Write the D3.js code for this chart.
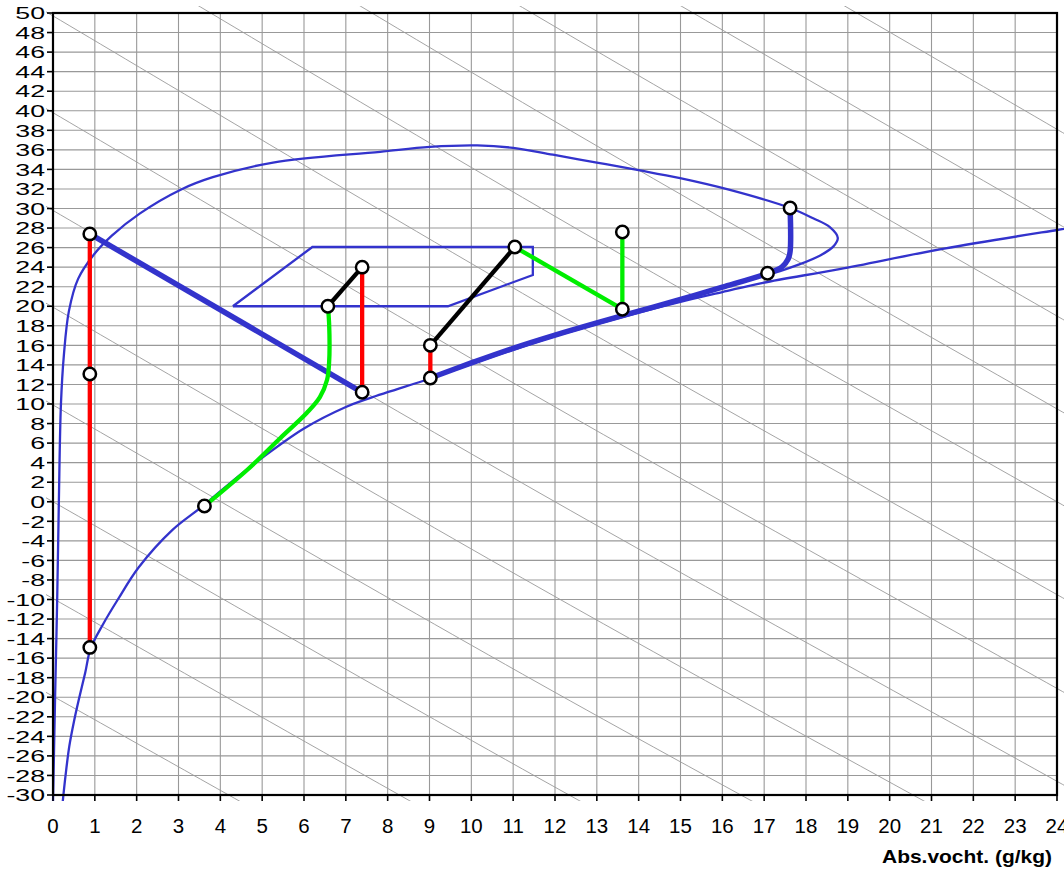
<!DOCTYPE html>
<html>
<head>
<meta charset="utf-8">
<script src="https://cdn.jsdelivr.net/npm/d3@7/dist/d3.min.js"></script>
<style>
  body { margin: 0; background: #fff; }
  svg { display: block; font-family: 'Liberation Sans', Arial, sans-serif; }
</style>
</head>
<body>
<svg id="chart" width="1064" height="875"></svg>
<script>
// axis ticks
var xTicks = d3.range(0, 25, 1);
var yTicks = d3.range(-30, 52, 2);

// enthalpy lines (kJ/kg), temperature where each line meets x = 0, 12 and 24 g/kg
var enthalpyLevels = [-20, -10, 0, 10, 20, 30, 40, 50, 60, 70, 80, 90, 100];
var enthalpyTAt0 = [-19.9, -9.9, 0, 9.9, 19.9, 29.8, 39.8, 49.7, 59.6, 69.6, 79.5, 89.5, 99.4];
var enthalpyTAt12 = [-48.6, -38.9, -29.2, -19.5, -9.7, 0, 9.7, 19.4, 29.2, 38.9, 48.6, 58.3, 68.1];
var enthalpyTAt24 = [-76.2, -66.7, -57.1, -47.6, -38.1, -28.6, -19.1, -9.5, 0, 9.5, 19.0, 28.5, 38.1];

// saturation curve [g/kg, degC]
var saturation = [
  [0.23, -30.8], [0.3, -28], [0.39, -25], [0.5, -22.5], [0.63, -20], [0.77, -17.5],
  [0.9, -15], [1.2, -12.5], [1.55, -10], [2.05, -6.7], [2.85, -2.9], [3.58, -0.44],
  [4.4, 2.5], [5.0, 4.5], [6.0, 7.5], [7.0, 9.7], [7.5, 10.5], [9.05, 12.66],
  [10.0, 14.1], [11.0, 15.55], [12.0, 16.95], [13.1, 18.3], [14.0, 19.35], [15.0, 20.45],
  [16.0, 21.45], [16.97, 22.4], [18.8, 23.8], [21.3, 25.9], [24.0, 27.8], [24.6, 28.2]
];

// outer boundary curve
var boundary = [
  [0.0, -30.8], [0.05, -20], [0.1, -10], [0.14, 0], [0.19, 10], [0.26, 15],
  [0.38, 19.5], [0.6, 22.8], [0.96, 25.2], [1.4, 27.2], [2.08, 29.5], [3.04, 31.9],
  [3.82, 33.2], [5.26, 34.7], [7.82, 35.8], [9.01, 36.3], [10.14, 36.45], [11.0, 36.2],
  [11.95, 35.5], [13.0, 34.7], [14.03, 33.9], [14.99, 33.1], [16.18, 31.9], [17.62, 30.05],
  [18.17, 29.0], [18.57, 28.1], [18.76, 27.0], [18.65, 26.1], [18.34, 25.2], [17.79, 24.2],
  [17.38, 23.6], [17.0, 23.15], [16.26, 22.35], [15.0, 20.7], [14.0, 19.5]
];

// comfort zone polygon
var zone = [[4.3, 20.0], [6.2, 26.06], [11.47, 26.06], [11.47, 23.2], [9.44, 20.0], [4.3, 20.0]];

// thick blue process lines
var thickLines = [
  [[0.88, 27.4], [7.39, 11.2]],
  [[9.02, 12.66], [10.0, 14.2], [11.0, 15.7], [12.0, 17.05], [13.0, 18.3], [14.0, 19.5],
   [15.0, 20.7], [16.0, 21.95], [17.08, 23.37], [17.42, 24.0], [17.57, 24.8],
   [17.62, 25.6], [17.62, 30.05]]
];

var redLines = [
  [[0.88, 27.4], [0.88, -14.9]],
  [[7.39, 24.0], [7.39, 11.2]],
  [[9.02, 16.0], [9.02, 12.66]]
];

var greenLines = [
  [[3.62, -0.44], [4.64, 3.25], [5.43, 6.5], [6.07, 9.1], [6.38, 10.7], [6.55, 12.45],
   [6.6, 14.2], [6.6, 18.3], [6.57, 20.0]],
  [[11.04, 26.06], [13.61, 19.7]],
  [[13.61, 27.6], [13.61, 19.7]]
];

var blackLines = [
  [[6.57, 20.0], [7.39, 24.0]],
  [[9.02, 16.0], [11.04, 26.06]]
];

var markers = [
  [0.88, 27.4], [0.88, 13.07], [0.88, -14.9], [3.62, -0.44], [6.57, 20.0], [7.39, 24.0],
  [7.39, 11.2], [9.02, 16.0], [9.02, 12.66], [11.04, 26.06], [13.61, 27.6], [13.61, 19.7],
  [17.08, 23.37], [17.62, 30.05]
];

var xTitle = 'Abs.vocht. (g/kg)';

// layout ----------------------------------------------------------
var plot = { left: 53, right: 1057, top: 13, bottom: 795 };
var blue = '#3333cc';

var svg = d3.select('#chart');

var x = d3.scaleLinear().domain([0, 24]).range([plot.left, plot.right]);
var y = d3.scaleLinear().domain([-30, 50]).range([plot.bottom, plot.top]);

var line = d3.line()
  .x(function (d) { return x(d[0]); })
  .y(function (d) { return y(d[1]); });
var smooth = d3.line()
  .x(function (d) { return x(d[0]); })
  .y(function (d) { return y(d[1]); })
  .curve(d3.curveCatmullRom.alpha(0.5));

// the series lines run a few pixels past the plot edge, like in the original
svg.append('clipPath').attr('id', 'clip')
  .append('rect')
  .attr('x', plot.left - 7).attr('y', plot.top - 7)
  .attr('width', 1100).attr('height', plot.bottom - plot.top + 13);

// grid
var grid = svg.append('g').attr('stroke', '#999').attr('stroke-width', 1.1);
grid.selectAll('.vg').data(xTicks.slice(1, -1)).enter().append('line')
  .attr('x1', function (d) { return x(d); }).attr('x2', function (d) { return x(d); })
  .attr('y1', plot.top).attr('y2', plot.bottom);
grid.selectAll('.hg').data(yTicks.slice(1, -1)).enter().append('line')
  .attr('y1', function (d) { return y(d); }).attr('y2', function (d) { return y(d); })
  .attr('x1', plot.left).attr('x2', plot.right);

var series = svg.append('g').attr('clip-path', 'url(#clip)');

// enthalpy lines, extended a little on both ends so the clip cuts them
var enthalpyPaths = enthalpyLevels.map(function (h, i) {
  var s1 = (enthalpyTAt12[i] - enthalpyTAt0[i]) / 12;
  var s2 = (enthalpyTAt24[i] - enthalpyTAt12[i]) / 12;
  return [
    [-1, enthalpyTAt0[i] - s1],
    [0, enthalpyTAt0[i]],
    [12, enthalpyTAt12[i]],
    [24, enthalpyTAt24[i]],
    [27, enthalpyTAt24[i] + s2 * 3]
  ];
});
series.selectAll('.enthalpy').data(enthalpyPaths).enter().append('path')
  .attr('class', 'enthalpy')
  .attr('d', smooth)
  .attr('fill', 'none')
  .attr('stroke', '#9a9a9a')
  .attr('stroke-width', 0.9);

// saturation and boundary curves
series.append('path').datum(saturation)
  .attr('d', smooth).attr('fill', 'none').attr('stroke', blue).attr('stroke-width', 2.3);
series.append('path').datum(boundary)
  .attr('d', smooth).attr('fill', 'none').attr('stroke', blue).attr('stroke-width', 2.3);

// comfort zone
series.append('path').datum(zone)
  .attr('d', line).attr('fill', 'none').attr('stroke', blue).attr('stroke-width', 2.3)
  .attr('stroke-linejoin', 'miter');

// process lines
function drawLines(data, color, width) {
  series.selectAll(null).data(data).enter().append('path')
    .attr('d', smooth)
    .attr('fill', 'none')
    .attr('stroke', color)
    .attr('stroke-width', width)
    .attr('stroke-linejoin', 'round');
}
drawLines(thickLines, blue, 5.5);
drawLines(redLines, '#ff0000', 4.3);
drawLines(greenLines, '#00ee00', 4.3);
drawLines(blackLines, '#000000', 4.3);

// markers
series.selectAll('.marker').data(markers).enter().append('circle')
  .attr('class', 'marker')
  .attr('cx', function (d) { return x(d[0]); })
  .attr('cy', function (d) { return y(d[1]); })
  .attr('r', 6.2)
  .attr('fill', '#fff')
  .attr('stroke', '#000')
  .attr('stroke-width', 2.5);

// frame and ticks
svg.append('rect')
  .attr('x', plot.left).attr('y', plot.top)
  .attr('width', plot.right - plot.left).attr('height', plot.bottom - plot.top)
  .attr('fill', 'none').attr('stroke', '#000').attr('stroke-width', 2.2);

var axes = svg.append('g').attr('stroke', '#000').attr('stroke-width', 1.6);
axes.selectAll('.yt').data(yTicks).enter().append('line')
  .attr('x1', plot.left - 6).attr('x2', plot.left)
  .attr('y1', function (d) { return y(d); }).attr('y2', function (d) { return y(d); });
axes.selectAll('.xt').data(xTicks).enter().append('line')
  .attr('y1', plot.bottom).attr('y2', plot.bottom + 6)
  .attr('x1', function (d) { return x(d); }).attr('x2', function (d) { return x(d); });

// y labels are stretched sideways in the original
svg.selectAll('.ylab').data(yTicks).enter().append('text')
  .attr('class', 'ylab')
  .attr('transform', function (d) { return 'translate(45,' + (y(d) + 6.2) + ') scale(1.62,1)'; })
  .attr('text-anchor', 'end')
  .attr('font-size', 16.5)
  .attr('fill', '#000')
  .text(function (d) { return d; });

svg.selectAll('.xlab').data(xTicks).enter().append('text')
  .attr('class', 'xlab')
  .attr('x', function (d) { return x(d); })
  .attr('y', 833)
  .attr('text-anchor', 'middle')
  .attr('font-size', 20.5)
  .attr('fill', '#000')
  .text(function (d) { return d; });

svg.append('text')
  .attr('x', 882).attr('y', 863)
  .attr('textLength', 170)
  .attr('lengthAdjust', 'spacingAndGlyphs')
  .attr('font-size', 19)
  .attr('font-weight', 'bold')
  .attr('fill', '#000')
  .text(xTitle);
</script>
</body>
</html>
